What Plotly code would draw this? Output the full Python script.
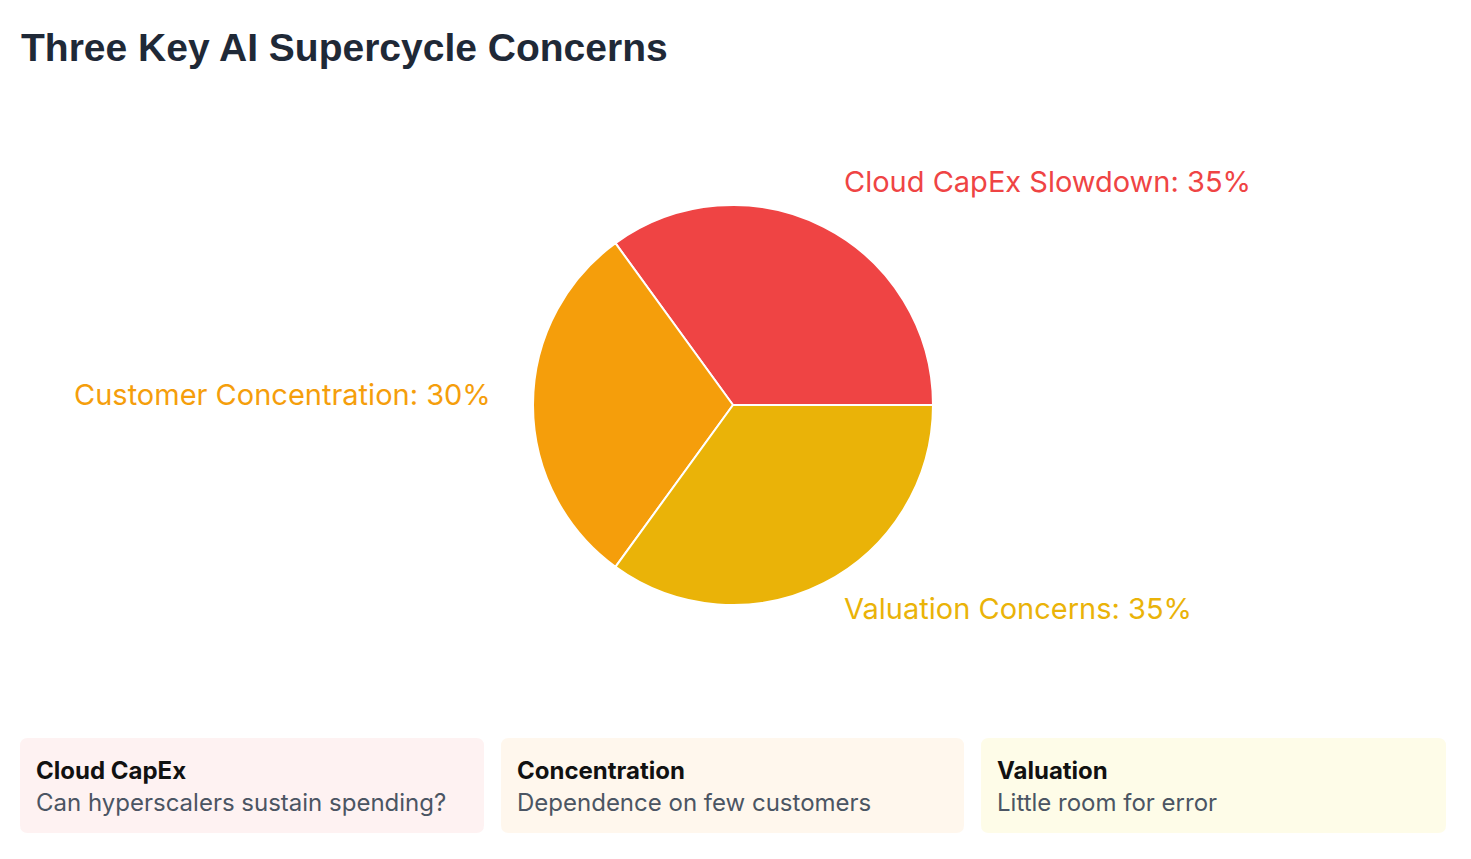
import math

import plotly.graph_objects as go

W, H = 1471, 859
OFF = 8  # default body margin of the html page
FW, FH = W - 2 * OFF, H - 2 * OFF

# pie data
labels = ['Cloud CapEx Slowdown', 'Customer Concentration', 'Valuation Concerns']
values = [35, 30, 35]
slice_colors = ['#EF4444', '#F59E0B', '#EAB308']

# cards under the pie
card_titles = ['Cloud CapEx', 'Concentration', 'Valuation']
card_texts = ['Can hyperscalers sustain spending?', 'Dependence on few customers', 'Little room for error']
card_fills = ['#FEF2F2', '#FFF7ED', '#FEFCE8']

# pie geometry in page pixels
CX, CY, R = 733, 405, 200
LABEL_R = 1.2 * R


def px_x(x):
    return (x - OFF) / FW


def px_y(y):
    return 1 - (y - OFF) / FH


def rounded_rect(x0, y0, x1, y1, r):
    # path in paper coords built from pixel positions
    pts = [
        f'M {px_x(x0 + r)} {px_y(y0)}',
        f'L {px_x(x1 - r)} {px_y(y0)}',
        f'Q {px_x(x1)} {px_y(y0)} {px_x(x1)} {px_y(y0 + r)}',
        f'L {px_x(x1)} {px_y(y1 - r)}',
        f'Q {px_x(x1)} {px_y(y1)} {px_x(x1 - r)} {px_y(y1)}',
        f'L {px_x(x0 + r)} {px_y(y1)}',
        f'Q {px_x(x0)} {px_y(y1)} {px_x(x0)} {px_y(y1 - r)}',
        f'L {px_x(x0)} {px_y(y0 + r)}',
        f'Q {px_x(x0)} {px_y(y0)} {px_x(x0 + r)} {px_y(y0)}',
        'Z',
    ]
    return ' '.join(pts)


fig = go.Figure(go.Pie(
    labels=labels,
    values=values,
    sort=False,
    direction='counterclockwise',
    rotation=-36,
    marker=dict(colors=slice_colors, line=dict(color='white', width=2)),
    textinfo='none',
    domain=dict(x=[px_x(CX - R), px_x(CX + R)], y=[px_y(CY + R), px_y(CY - R)]),
    showlegend=False,
    hoverinfo='label+percent',
))

# slice labels sit on a ring outside the pie, at each slice's mid angle
total = sum(values)
start = 0.0
for label, value, color in zip(labels, values, slice_colors):
    mid = math.radians(start + 180 * value / total)
    start += 360 * value / total
    lx = CX + LABEL_R * math.cos(mid)
    ly = CY - LABEL_R * math.sin(mid) - 10
    fig.add_annotation(
        x=px_x(lx), y=px_y(ly), xref='paper', yref='paper',
        text=f'{label}: {value}%', showarrow=False,
        xanchor='left' if math.cos(mid) >= 0 else 'right', yanchor='middle',
        font=dict(family='Inter', size=29, color=color),
    )

card_x = [(20, 484), (501, 964), (981, 1446)]
for (x0, x1), title, text, fill in zip(card_x, card_titles, card_texts, card_fills):
    fig.add_shape(
        type='path', xref='paper', yref='paper',
        path=rounded_rect(x0, 738, x1, 833, 8),
        fillcolor=fill, line=dict(width=0), layer='below',
    )
    fig.add_annotation(
        x=px_x(x0 + 14), y=px_y(770), xref='paper', yref='paper',
        text=f'<b>{title}</b>', showarrow=False, xanchor='left', yanchor='middle',
        font=dict(family='Inter', size=24, color='#111111'),
    )
    fig.add_annotation(
        x=px_x(x0 + 14), y=px_y(802), xref='paper', yref='paper',
        text=text, showarrow=False, xanchor='left', yanchor='middle',
        font=dict(family='Inter', size=24, color='#4B5563'),
    )

fig.update_layout(
    width=FW, height=FH,
    margin=dict(t=0, b=0, l=0, r=0),
    paper_bgcolor='white',
    plot_bgcolor='white',
    title=dict(
        text='<b>Three Key AI Supercycle Concerns</b>',
        x=px_x(21), xanchor='left', y=px_y(47), yanchor='middle',
        font=dict(family='Liberation Sans', size=39, color='#1F2937'),
    ),
)

fig.write_html('out.html')
